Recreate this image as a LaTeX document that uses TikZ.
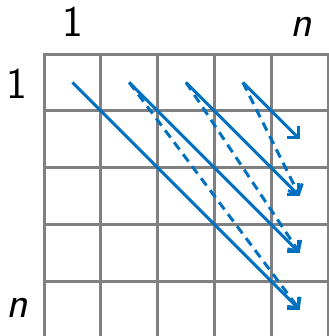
\documentclass[tikz,border=0pt]{standalone}
\usepackage{tikz}
\usetikzlibrary{arrows.meta}
\definecolor{diagblue}{RGB}{0,112,192}

\begin{document}
\begin{tikzpicture}[
    gridline/.style={line width=1.5pt, draw=gray, line cap=rect},
    diag/.style={line width=1.5pt, draw=diagblue, -{Straight Barb[length=4pt, width=8pt]}},
    diagdash/.style={diag, dash pattern=on 4.5pt off 3pt},
    axislabel/.style={font=\fontsize{22}{26}\selectfont\sffamily, anchor=base}]
      \useasboundingbox (-0.775, 0.951) rectangle (5, -4.964);

      % Grid
      \draw[gridline] (0, 0) grid (5, -5);

      % Cell centres
      \foreach \row in {1,...,5}
        \foreach \col in {1,...,5}
          \coordinate (c\row\col) at (\col-0.5, -\row+0.5);

      % Index labels
      \node[axislabel] (top1) at (0.5, 0.3) {1};
      \node[axislabel] (topn) at (4.53, 0.3) {\itshape n};
      \node[axislabel] (left1) at (-0.475, -0.775) {1};
      \node[axislabel] (leftn) at (-0.475, -4.63) {\itshape n};

      % Solid diagonals
      \draw[diag] (c11) -- (c55);
      \draw[diag] (c12) -- (c45);
      \draw[diag] (c13) -- (c35);
      \draw[diag] (c14) -- (c25);

      % Dashed jumps to the next diagonal
      \draw[diagdash] (c12) -- (c55);
      \draw[diagdash] (c13) -- (c45);
      \draw[diagdash] (c14) -- (c35);

\end{tikzpicture}
\end{document}
